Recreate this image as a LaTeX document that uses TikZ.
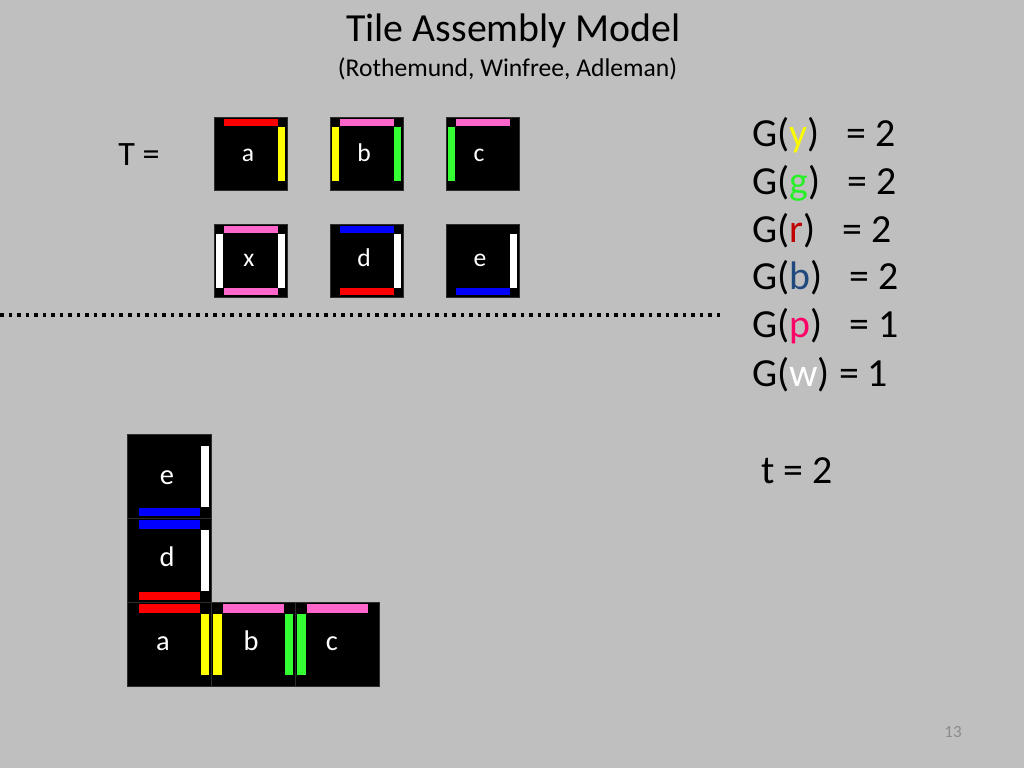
\documentclass[tikz,border=0pt]{standalone}
\usepackage{fontspec}
\setmainfont{Carlito}
\definecolor{bg}{RGB}{191,191,191}
\definecolor{cred}{RGB}{255,0,0}
\definecolor{cyel}{RGB}{255,255,0}
\definecolor{cpink}{RGB}{255,102,204}
\definecolor{cgreen}{RGB}{51,255,51}
\definecolor{cblue}{RGB}{0,0,255}
\definecolor{tyel}{RGB}{250,250,0}
\definecolor{tgreen}{RGB}{40,240,40}
\definecolor{tred}{RGB}{192,0,0}
\definecolor{tblue}{RGB}{31,73,125}
\definecolor{tpink}{RGB}{255,0,102}
\definecolor{pgnum}{RGB}{140,140,140}
\definecolor{edge}{RGB}{45,45,45}
\newcommand\tilenode[4]{\node[tilebox,minimum size={#4*0.703125pt}] (#1) at ({#2+#4/2},{#3+#4/2}) {};}
\newcommand\barT[4]{\fill[#4] ({#1+0.14*#3},{#2+0.025*#3}) rectangle ({#1+0.87*#3},{#2+0.125*#3});}
\newcommand\barB[4]{\fill[#4] ({#1+0.14*#3},{#2+0.875*#3}) rectangle ({#1+0.87*#3},{#2+0.975*#3});}
\newcommand\barR[4]{\fill[#4] ({#1+0.875*#3},{#2+0.14*#3}) rectangle ({#1+0.975*#3},{#2+0.87*#3});}
\newcommand\barL[4]{\fill[#4] ({#1+0.025*#3},{#2+0.14*#3}) rectangle ({#1+0.125*#3},{#2+0.87*#3});}
\tikzset{
  tilebox/.style={draw=edge, line width=0.4pt, fill=black, inner sep=0pt, outer sep=0pt},
  lbl/.style={text=white, anchor=base, inner sep=0pt, font=\fontsize{18}{21}\selectfont},
  albl/.style={text=white, anchor=base, inner sep=0pt, font=\fontsize{20}{24}\selectfont},
  gtxt/.style={anchor=base west, inner sep=0pt, font=\fontsize{28}{33}\selectfont},
  sepline/.style={line width=2.8pt, dash pattern=on 2.5pt off 3.5pt}
}
\begin{document}
\begin{tikzpicture}[x=0.703125pt,y=-0.703125pt]
\fill[bg] (0,0) rectangle (1024,768);
\useasboundingbox (0,0) rectangle (1024,768);
% titles
\node[anchor=base, inner sep=0pt, font=\fontsize{28}{33}\selectfont] (title) at (513.5,41.7) {Tile Assembly Model};
\node[anchor=base, inner sep=0pt, font=\fontsize{18}{21}\selectfont] (subtitle) at (507.5,77) {(Rothemund, Winfree, Adleman)};
\node[anchor=base west, inner sep=0pt, font=\fontsize{24}{28}\selectfont] (Teq) at (118,166) {T =};
% tile set
\tilenode{tA}{214}{117}{73}
\barT{214}{117}{73}{cred}\barR{214}{117}{73}{cyel}
\node[lbl] (lA) at (248,161.7) {a};
\tilenode{tB}{330}{117}{73}
\barT{330}{117}{73}{cpink}\barL{330}{117}{73}{cyel}\barR{330}{117}{73}{cgreen}
\node[lbl] (lB) at (364,161.7) {b};
\tilenode{tC}{446}{117}{73}
\barT{446}{117}{73}{cpink}\barL{446}{117}{73}{cgreen}
\node[lbl] (lC) at (479,161.7) {c};
\tilenode{tX}{214}{224}{73}
\barT{214}{224}{73}{cpink}\barB{214}{224}{73}{cpink}\barL{214}{224}{73}{white}\barR{214}{224}{73}{white}
\node[lbl] (lX) at (249,266.7) {x};
\tilenode{tD}{330}{224}{73}
\barT{330}{224}{73}{cblue}\barB{330}{224}{73}{cred}\barR{330}{224}{73}{white}
\node[lbl] (lD) at (364,266.7) {d};
\tilenode{tE}{446}{224}{73}
\barB{446}{224}{73}{cblue}\barR{446}{224}{73}{white}
\node[lbl] (lE) at (480,266.7) {e};
% separator
\coordinate (sepL) at (0,315);
\coordinate (sepR) at (722,315);
\draw[sepline] (sepL) -- (sepR);
% glue strengths
\node[gtxt] (g1) at (752,147) {G(\textcolor{tyel}{y})\ \ \ = 2};
\node[gtxt] (g2) at (752,195) {G(\textcolor{tgreen}{g})\ \ \ = 2};
\node[gtxt] (g3) at (752,243) {G(\textcolor{tred}{r})\ \ \ = 2};
\node[gtxt] (g4) at (752,290) {G(\textcolor{tblue}{b})\ \ \ = 2};
\node[gtxt] (g5) at (752,338) {G(\textcolor{tpink}{p})\ \ \ = 1};
\node[gtxt] (g6) at (752,386) {G(\textcolor{white}{w}) = 1};
\node[gtxt] (temp) at (761,483) {t = 2};
% assembly
\tilenode{aE}{127}{434}{84}
\tilenode{aD}{127}{518}{84}
\tilenode{aA}{127}{602}{84}
\tilenode{aB}{211}{602}{84}
\tilenode{aC}{295}{602}{84}
\barR{127}{434}{84}{white}\barB{127}{434}{84}{cblue}
\barT{127}{518}{84}{cblue}\barR{127}{518}{84}{white}\barB{127}{518}{84}{cred}
\barT{127}{602}{84}{cred}\barR{127}{602}{84}{cyel}
\barL{211}{602}{84}{cyel}\barT{211}{602}{84}{cpink}\barR{211}{602}{84}{cgreen}
\barL{295}{602}{84}{cgreen}\barT{295}{602}{84}{cpink}
\node[albl] (alE) at (167,484) {e};
\node[albl] (alD) at (167,566.7) {d};
\node[albl] (alA) at (163,650.7) {a};
\node[albl] (alB) at (251,650.7) {b};
\node[albl] (alC) at (332,650.7) {c};
% page number
\node[anchor=base east, inner sep=0pt, text=pgnum, font=\fontsize{12}{14}\selectfont] (pg) at (962,737) {13};
\end{tikzpicture}
\end{document}
